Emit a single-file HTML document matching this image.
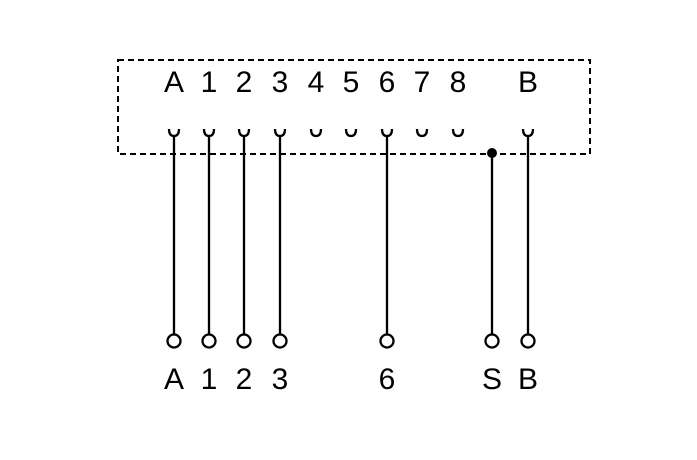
<!DOCTYPE html>
<html><head><style>body{margin:0;background:#fff}</style></head><body>
<svg width="697" height="455" xmlns="http://www.w3.org/2000/svg">
<rect x="118" y="60" width="472" height="94" fill="none" stroke="#000" stroke-width="2" stroke-dasharray="6,4"/>
<g font-family="Liberation Sans, sans-serif" font-size="30" text-anchor="middle" fill="#000">
<text x="174" y="92">A</text><text x="209" y="92">1</text><text x="244" y="92">2</text><text x="280" y="92">3</text><text x="316" y="92">4</text><text x="351" y="92">5</text><text x="387" y="92">6</text><text x="422" y="92">7</text><text x="458" y="92">8</text><text x="528" y="92">B</text>
<text x="174" y="389">A</text><text x="209" y="389">1</text><text x="244" y="389">2</text><text x="280" y="389">3</text><text x="387" y="389">6</text><text x="492" y="389">S</text><text x="528" y="389">B</text>
</g>
<g fill="none" stroke="#000" stroke-width="2.3">
<path d="M169,129 Q169,136 174,136 Q179,136 179,129"/>
<path d="M204,129 Q204,136 209,136 Q214,136 214,129"/>
<path d="M239,129 Q239,136 244,136 Q249,136 249,129"/>
<path d="M275,129 Q275,136 280,136 Q285,136 285,129"/>
<path d="M311,129 Q311,136 316,136 Q321,136 321,129"/>
<path d="M346,129 Q346,136 351,136 Q356,136 356,129"/>
<path d="M382,129 Q382,136 387,136 Q392,136 392,129"/>
<path d="M417,129 Q417,136 422,136 Q427,136 427,129"/>
<path d="M453,129 Q453,136 458,136 Q463,136 463,129"/>
<path d="M523,129 Q523,136 528,136 Q533,136 533,129"/>
<path d="M174,136V334M209,136V334M244,136V334M280,136V334M387,136V334M492,153V334M528,136V334"/>
<circle cx="174" cy="341" r="6.5"/><circle cx="209" cy="341" r="6.5"/><circle cx="244" cy="341" r="6.5"/><circle cx="280" cy="341" r="6.5"/><circle cx="387" cy="341" r="6.5"/><circle cx="492" cy="341" r="6.5"/><circle cx="528" cy="341" r="6.5"/>
</g>
<circle cx="492" cy="153" r="5" fill="#000"/>
</svg>
</body></html>
